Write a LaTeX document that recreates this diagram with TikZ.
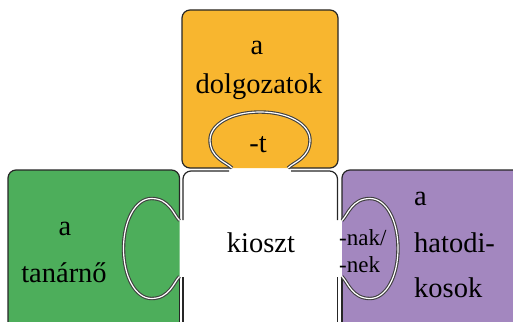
\documentclass[tikz,border=0pt]{standalone}
\usepackage{fontspec}
\setmainfont{Liberation Serif}
\definecolor{orangeP}{RGB}{248,182,47}
\definecolor{greenP}{RGB}{77,174,91}
\definecolor{purpleP}{RGB}{163,135,191}
\newcommand\tabcurve{(-28,0) .. controls (-34,6) and (-50,10) .. (-50,28) .. controls (-50,44) and (-28,56) .. (0,56) .. controls (28,56) and (50,44) .. (50,28) .. controls (50,10) and (34,6) .. (28,0)}
\begin{document}
\begin{tikzpicture}[x=1pt,y=-1pt,
  border/.style={draw=black!85, line width=1.2pt, rounded corners=8pt},
  tabline/.style={draw=black!75, double=white, double distance=1.2pt, line width=1.1pt},
  lbl/.style={inner sep=0pt, font=\fontsize{28.5}{32}\selectfont},
  lbls/.style={inner sep=0pt, font=\fontsize{23}{26}\selectfont}]
\useasboundingbox (0,0) rectangle (513,321);
\clip (0,0) rectangle (513,321);
% fills
\fill[orangeP, rounded corners=8pt] (182,10) rectangle (338,168);
\fill[greenP, rounded corners=8pt] (8,170) rectangle (179.5,340);
\fill[purpleP, rounded corners=8pt] (342,170) rectangle (530,340);
% borders
\draw[border] (232,168) -- (182,168) -- (182,10) -- (338,10) -- (338,168) -- (288,168);
\draw[border] (183,220) -- (183,171) -- (229,171);
\draw[border] (291,171) -- (337.5,171) -- (337.5,220);
\draw[border] (183,277) -- (183,340);
\draw[border] (337.5,277) -- (337.5,340);
\draw[border] (179.5,220) -- (179.5,170) -- (8,170) -- (8,340);
\draw[border] (179.5,277) -- (179.5,340);
\draw[border] (342,220) -- (342,170) -- (530,170);
\draw[border] (342,277) -- (342,340);
% tabs
\begin{scope}[shift={(260,168)}, x={(1pt,0pt)}, y={(0pt,1pt)}]
  \draw[tabline] \tabcurve;
\end{scope}
\begin{scope}[shift={(179.5,248.5)}, x={(0pt,-1pt)}, y={(-1pt,0pt)}]
  \draw[tabline] \tabcurve;
\end{scope}
\begin{scope}[shift={(342,248.5)}, x={(0pt,-1pt)}, y={(1pt,0pt)}]
  \draw[tabline] \tabcurve;
\end{scope}
% labels
\node[lbl, anchor=base] (oa) at (257,55) {a};
\node[lbl, anchor=base] (od) at (259,93) {dolgozatok};
\node[lbl, anchor=base] (ot) at (258,152) {-t};
\node[lbl, anchor=base] (ga) at (65,235) {a};
\node[lbl, anchor=base] (gt) at (64,282) {tanárnő};
\node[lbl, anchor=base] (wk) at (261,252) {kioszt};
\node[lbl, anchor=base west] (pa) at (414,205) {a};
\node[lbl, anchor=base west] (ph) at (414,252) {hatodi-};
\node[lbl, anchor=base west] (pk) at (414,297) {kosok};
\node[lbls, anchor=base west] (pn1) at (339,245) {-nak/};
\node[lbls, anchor=base west] (pn2) at (339,272) {-nek};
\end{tikzpicture}
\end{document}
